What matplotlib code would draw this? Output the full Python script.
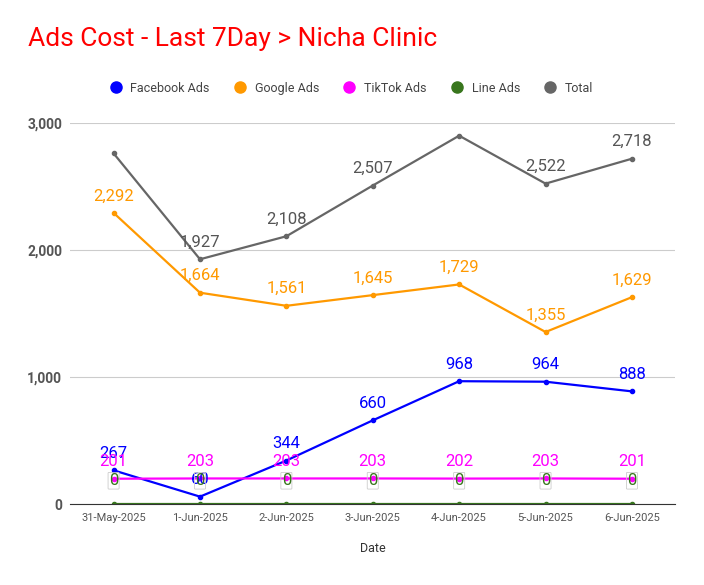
import matplotlib.pyplot as plt

dates = ["31-May-2025", "1-Jun-2025", "2-Jun-2025", "3-Jun-2025", "4-Jun-2025", "5-Jun-2025", "6-Jun-2025"]
facebook = [267, 60, 344, 660, 968, 964, 888]
google = [2292, 1664, 1561, 1645, 1729, 1355, 1629]
tiktok = [201, 203, 203, 203, 202, 203, 201]
line_ads = [0, 0, 0, 0, 0, 0, 0]
total = [2760, 1927, 2108, 2507, 2899, 2522, 2718]
total_shown = [False, True, True, True, False, True, True]

plt.rcParams['font.family'] = ['Roboto', 'DejaVu Sans']
fig = plt.figure(figsize=(7.04, 5.85), dpi=100)
ax = fig.add_axes([0.1, 0.138, 0.859, 0.652])
x = list(range(len(dates)))

series = [("Facebook Ads", facebook, "#0000ff"),
          ("Google Ads", google, "#ff9900"),
          ("TikTok Ads", tiktok, "#ff00ff"),
          ("Line Ads", line_ads, "#38761d"),
          ("Total", total, "#666666")]
for name, vals, col in series:
    ax.plot(x, vals, color=col, lw=1.6, marker="o", ms=3, label=name)

off = 75
for i in x:
    ax.text(i, facebook[i] + off, f"{facebook[i]:,}", color="#0000ff", ha="center", va="bottom", fontsize=12)
    ax.text(i, google[i] + off, f"{google[i]:,}", color="#ff9900", ha="center", va="bottom", fontsize=12)
    ax.text(i, tiktok[i] + off, f"{tiktok[i]:,}", color="#ff00ff", ha="center", va="bottom", fontsize=12)
    ax.text(i, line_ads[i] + 185, f"{line_ads[i]}", color="#38761d", ha="center", va="center", fontsize=12,
            bbox=dict(boxstyle="round,pad=0.05", fc="none", ec="#cccccc", lw=0.6))
    if total_shown[i]:
        ax.text(i, total[i] + off, f"{total[i]:,}", color="#555555", ha="center", va="bottom", fontsize=12)

ax.set_ylim(0, 3000)
ax.set_xlim(-0.5, 6.5)
ax.set_yticks([0, 1000, 2000, 3000])
ax.set_yticklabels(["0", "1,000", "2,000", "3,000"], fontweight="bold", color="#555555", fontsize=10)
ax.set_xticks(x)
ax.set_xticklabels(dates, fontsize=8, color="#555555")
ax.grid(axis="y", color="#cccccc", lw=0.8)
ax.set_axisbelow(True)
for s in ["top", "right", "left"]:
    ax.spines[s].set_visible(False)
ax.spines["bottom"].set_color("#333333")
ax.tick_params(length=0, pad=6)
ax.set_xlabel("Date", fontsize=9, color="#333333", labelpad=14)

fig.text(0.04, 0.922, "Ads Cost - Last 7Day > Nicha Clinic", color="#ff0000", fontsize=19)
leg = fig.legend(loc="center", bbox_to_anchor=(0.5, 0.849), ncol=5, frameon=False, fontsize=9,
                 handlelength=0.8, labelcolor="#444444")
for h in leg.legend_handles:
    h.set_linestyle("none")
    h.set_markersize(8)

fig.savefig("out.png", dpi=100)
